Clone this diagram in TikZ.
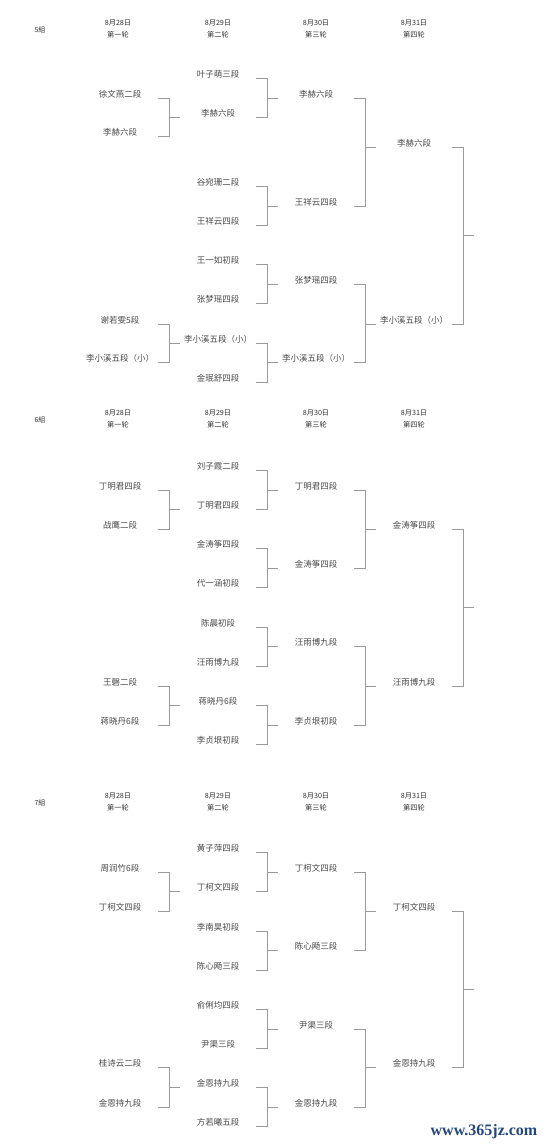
\documentclass[tikz,border=0pt]{standalone}
\usepackage{fontspec}
\setmainfont{Noto Sans CJK SC}
\newfontfamily\wmfont{Liberation Serif}
\usetikzlibrary{calc}
\definecolor{linegray}{HTML}{9A9A9A}
\definecolor{namegray}{HTML}{4A4A4A}
\definecolor{headgray}{HTML}{333333}
\definecolor{wmblue}{HTML}{24467F}
\tikzset{
  player/.style={minimum width=76pt, inner sep=0pt, font=\fontsize{8.5}{10}\selectfont, text=namegray},
  head/.style={align=center, inner sep=0pt, font=\fontsize{7.2}{11.5}\selectfont, text=headgray},
  grp/.style={inner sep=0pt, font=\fontsize{7}{8}\selectfont, text=headgray},
  br/.style={draw=linegray, line width=0.8pt},
}
\newcommand{\pairbr}[3]{%
  \draw[br] ($(#1.east)+(0,4)$) -- ++(11,0) |- ($(#2.east)+(0,4)$);
  \draw[br] ($(#3.west)+(0,4)$) -- ++(-11,0);}
\newcommand{\finalbr}[3]{%
  \draw[br] ($(#1.east)+(0,4)$) -- ++(11,0) |- ($(#2.east)+(0,4)$);
  \coordinate (#3) at ($(#1.east)!0.5!(#2.east)+(22,4)$);
  \draw[br] (#3) -- ++(-11,0);}
\newcommand{\heads}[2]{%
  \node[grp] (#1g) at (40,#2+1) {#1組};
  \node[head] (#1h1) at (118,#2) {8月28日\\第一轮};
  \node[head] (#1h2) at (218,#2) {8月29日\\第二轮};
  \node[head] (#1h3) at (316,#2) {8月30日\\第三轮};
  \node[head] (#1h4) at (414,#2) {8月31日\\第四轮};}
\begin{document}
\begin{tikzpicture}[x=1pt,y=-1pt]
\useasboundingbox (0,0) rectangle (550,1146);
\fill[white] (0,0) rectangle (550,1146);

% ---------------- 5組 ----------------
\heads{5}{29}
\node[player] (Aa1) at (120,94) {徐文燕二段};
\node[player] (Aa2) at (120,132) {李赫六段};
\node[player] (Aa3) at (120,320) {谢若雯5段};
\node[player] (Aa4) at (120,358) {李小溪五段（小）};
\node[player] (Ab1) at (218,74) {叶子萌三段};
\node[player] (Ab2) at (218,113) {李赫六段};
\node[player] (Ab3) at (218,182) {谷宛珊二段};
\node[player] (Ab4) at (218,221) {王祥云四段};
\node[player] (Ab5) at (218,260) {王一如初段};
\node[player] (Ab6) at (218,299) {张梦瑶四段};
\node[player] (Ab7) at (218,339) {李小溪五段（小）};
\node[player] (Ab8) at (218,378) {金珉舒四段};
\node[player] (Ac1) at (316,94) {李赫六段};
\node[player] (Ac2) at (316,202) {王祥云四段};
\node[player] (Ac3) at (316,280) {张梦瑶四段};
\node[player] (Ac4) at (316,358) {李小溪五段（小）};
\node[player] (Ad1) at (414,143) {李赫六段};
\node[player] (Ad2) at (414,320) {李小溪五段（小）};
\pairbr{Aa1}{Aa2}{Ab2}
\pairbr{Aa3}{Aa4}{Ab7}
\pairbr{Ab1}{Ab2}{Ac1}
\pairbr{Ab3}{Ab4}{Ac2}
\pairbr{Ab5}{Ab6}{Ac3}
\pairbr{Ab7}{Ab8}{Ac4}
\pairbr{Ac1}{Ac2}{Ad1}
\pairbr{Ac3}{Ac4}{Ad2}
\finalbr{Ad1}{Ad2}{Aend}

% ---------------- 6組 ----------------
\heads{6}{419}
\node[player] (Ba1) at (120,486) {丁明君四段};
\node[player] (Ba2) at (120,525) {战鹰二段};
\node[player] (Ba3) at (120,682) {王磬二段};
\node[player] (Ba4) at (120,721) {蒋晓丹6段};
\node[player] (Bb1) at (218,466) {刘子霞二段};
\node[player] (Bb2) at (218,505) {丁明君四段};
\node[player] (Bb3) at (218,544) {金涛筝四段};
\node[player] (Bb4) at (218,583) {代一涵初段};
\node[player] (Bb5) at (218,623) {陈晨初段};
\node[player] (Bb6) at (218,662) {汪雨博九段};
\node[player] (Bb7) at (218,701) {蒋晓丹6段};
\node[player] (Bb8) at (218,740) {李贞垠初段};
\node[player] (Bc1) at (316,486) {丁明君四段};
\node[player] (Bc2) at (316,564) {金涛筝四段};
\node[player] (Bc3) at (316,642) {汪雨博九段};
\node[player] (Bc4) at (316,721) {李贞垠初段};
\node[player] (Bd1) at (414,525) {金涛筝四段};
\node[player] (Bd2) at (414,682) {汪雨博九段};
\pairbr{Ba1}{Ba2}{Bb2}
\pairbr{Ba3}{Ba4}{Bb7}
\pairbr{Bb1}{Bb2}{Bc1}
\pairbr{Bb3}{Bb4}{Bc2}
\pairbr{Bb5}{Bb6}{Bc3}
\pairbr{Bb7}{Bb8}{Bc4}
\pairbr{Bc1}{Bc2}{Bd1}
\pairbr{Bc3}{Bc4}{Bd2}
\finalbr{Bd1}{Bd2}{Bend}

% ---------------- 7組 ----------------
\heads{7}{802}
\node[player] (Ca1) at (120,868) {周润竹6段};
\node[player] (Ca2) at (120,907) {丁柯文四段};
\node[player] (Ca3) at (120,1063) {桂诗云二段};
\node[player] (Ca4) at (120,1103) {金恩持九段};
\node[player] (Cb1) at (218,848) {黄子萍四段};
\node[player] (Cb2) at (218,887) {丁柯文四段};
\node[player] (Cb3) at (218,927) {李南昊初段};
\node[player] (Cb4) at (218,966) {陈心飏三段};
\node[player] (Cb5) at (218,1005) {俞俐均四段};
\node[player] (Cb6) at (218,1044) {尹渠三段};
\node[player] (Cb7) at (218,1083) {金恩持九段};
\node[player] (Cb8) at (218,1122) {方若曦五段};
\node[player] (Cc1) at (316,868) {丁柯文四段};
\node[player] (Cc2) at (316,946) {陈心飏三段};
\node[player] (Cc3) at (316,1025) {尹渠三段};
\node[player] (Cc4) at (316,1103) {金恩持九段};
\node[player] (Cd1) at (414,907) {丁柯文四段};
\node[player] (Cd2) at (414,1063) {金恩持九段};
\pairbr{Ca1}{Ca2}{Cb2}
\pairbr{Ca3}{Ca4}{Cb7}
\pairbr{Cb1}{Cb2}{Cc1}
\pairbr{Cb3}{Cb4}{Cc2}
\pairbr{Cb5}{Cb6}{Cc3}
\pairbr{Cb7}{Cb8}{Cc4}
\pairbr{Cc1}{Cc2}{Cd1}
\pairbr{Cc3}{Cc4}{Cd2}
\finalbr{Cd1}{Cd2}{Cend}

% watermark
\node[inner sep=0pt, text=wmblue, font=\wmfont\bfseries\fontsize{16}{18}\selectfont] (wm) at (484,1132) {www.365jz.com};
\end{tikzpicture}
\end{document}
